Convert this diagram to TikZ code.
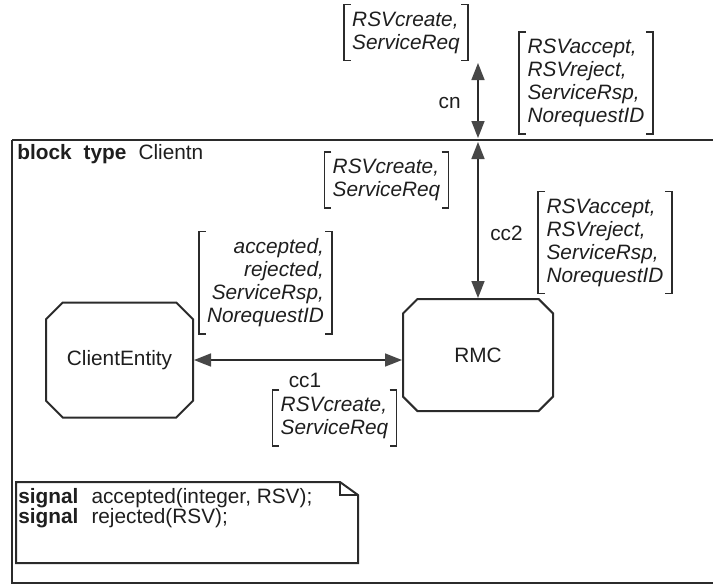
\documentclass[tikz,border=0pt]{standalone}
\usepackage{fontspec}
\setmainfont{Liberation Sans}
\usetikzlibrary{arrows.meta,shapes.misc}
\definecolor{ink}{HTML}{1E1E1E}
\definecolor{wire}{HTML}{2B2B2B}
\definecolor{tip}{HTML}{474747}
\newcommand{\sdlfont}{\fontsize{10.4}{11.5}\selectfont}
\tikzset{
  frame/.style  = {draw=wire, line width=1.1pt},
  head/.style   = {font=\sdlfont, text=ink, inner sep=0pt},
  proc/.style   = {chamfered rectangle, chamfered rectangle xsep=7.5pt, draw=wire,
                   line width=1pt, font=\sdlfont, text=ink, inner sep=0pt},
  chan/.style   = {{Triangle[length=8.5pt,width=6.5pt,color=tip]}-{Triangle[length=8.5pt,width=6.5pt,color=tip]},
                   draw=wire, line width=0.8pt},
  slist/.style  = {font=\sdlfont\itshape, text=ink, align=left, inner xsep=4pt, inner ysep=3.3pt},
  rlist/.style  = {slist, align=right},
  brk/.style    = {draw=wire, line width=0.8pt},
  chname/.style = {font=\sdlfont, text=ink, inner sep=0pt},
  txtsym/.style = {draw=wire, line width=1pt},
  defs/.style   = {font=\fontsize{10.4}{10}\selectfont, text=ink, align=left, inner sep=0pt},
}
% square brackets round a signal list
\newcommand{\sigbrk}[1]{%
  \draw[brk] ([xshift=3.5pt]#1.north west) -- (#1.north west) -- (#1.south west) -- ([xshift=3.5pt]#1.south west);
  \draw[brk] ([xshift=-3.5pt]#1.north east) -- (#1.north east) -- (#1.south east) -- ([xshift=-3.5pt]#1.south east);}

\begin{document}
\begin{tikzpicture}[x=0.5pt,y=-0.5pt]
\useasboundingbox (0,0) rectangle (713,586);

% ------------------------------------------------------------------ block
\draw[frame] (12,140) -- (715,140) (12,140) -- (12,583) -- (715,583);
\node[head, anchor=base west] (hdr) at (17,159)
  {\textbf{block}\hspace{6pt}\textbf{type}\hspace{6pt}Clientn};

% ------------------------------------------------------------------ processes
\node[proc, minimum width=73.5pt, minimum height=57.5pt] (CE)  at (119.5,360) {ClientEntity};
\node[proc, minimum width=75pt,   minimum height=56pt]   (RMC) at (478,355)   {RMC};

% ------------------------------------------------------------------ channels
\coordinate (cntop)  at (478,63);
\coordinate (cnfoot) at (478,140);
\draw[chan] (cntop) -- ([yshift=1pt]cnfoot);
\draw[chan] ([yshift=-1pt]cnfoot) -- (RMC.north);
\draw[chan] (CE.east) -- (CE.east -| RMC.west);

\node[chname, anchor=east] (cnlbl)  at (461,103) {cn};
\node[chname]              (cc2lbl) at (506.5,233) {cc2};
\node[chname]              (cc1lbl) at (305,380) {cc1};

% ------------------------------------------------------------------ signal lists
\node[slist] (sigtop)    at (406,32.5)  {RSVcreate,\\ServiceReq};
\node[slist] (sigcnrsp)  at (586,83)    {RSVaccept,\\RSVreject,\\ServiceRsp,\\NorequestID};
\node[slist] (sigcc2req) at (386.5,180) {RSVcreate,\\ServiceReq};
\node[slist] (sigcc2rsp) at (605,242.5) {RSVaccept,\\RSVreject,\\ServiceRsp,\\NorequestID};
\node[rlist] (sigce)     at (265.5,282.5) {accepted,\\rejected,\\ServiceRsp,\\NorequestID};
\node[slist] (sigcc1)    at (334.5,418) {RSVcreate,\\ServiceReq};
\foreach \s in {sigtop,sigcnrsp,sigcc2req,sigcc2rsp,sigce,sigcc1}{\sigbrk{\s}}

% ------------------------------------------------------------------ text symbol
\draw[txtsym] (16,482) -- (340,482) -- (358,495) -- (358,563) -- (16,563) -- cycle;
\draw[txtsym] (340,482) |- (358,495);
\node[defs, anchor=north west] (sigdef) at (18,488)
  {\textbf{signal}\hspace{6.5pt}accepted(integer, RSV);\\
   \textbf{signal}\hspace{6.5pt}rejected(RSV);};

\end{tikzpicture}
\end{document}
